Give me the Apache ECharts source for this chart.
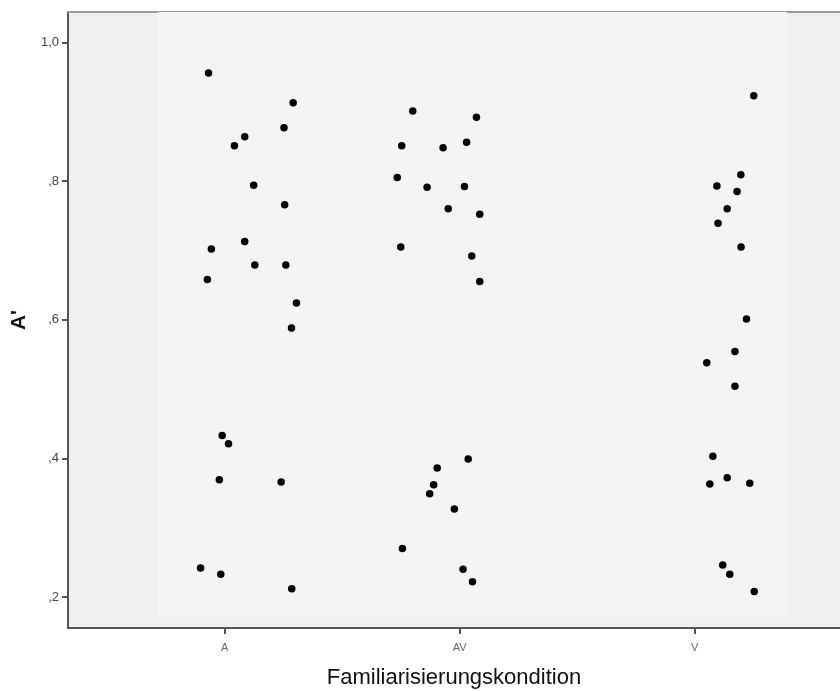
<!DOCTYPE html>
<html>
<head>
<meta charset="utf-8">
<script src="https://cdn.jsdelivr.net/npm/echarts@6/dist/echarts.min.js"></script>
<style>html,body{margin:0;padding:0;background:#fff}#c{width:840px;height:691px}</style>
</head>
<body>
<div id="c"></div>
<script>
// Categories and tick labels
var categories = ['A', 'AV', 'V'];
var yTickValues = [0.2, 0.4, 0.6, 0.8, 1.0];
var yTickLabels = [',2', ',4', ',6', ',8', '1,0'];

// Group A: jittered x positions (category index + jitter) and A' values
var groupA_x = [-0.069, 0.291, 0.252, 0.085, 0.041, 0.123, 0.255, 0.085, -0.057, 0.128, 0.260, -0.074, 0.305, 0.284, -0.011, 0.016, -0.023, 0.240, -0.103, -0.017, 0.285];
var groupA_y = [0.956, 0.913, 0.877, 0.864, 0.851, 0.794, 0.766, 0.713, 0.702, 0.679, 0.679, 0.658, 0.624, 0.588, 0.433, 0.421, 0.369, 0.366, 0.242, 0.233, 0.212];

// Group AV
var groupAV_x = [0.800, 1.071, 0.753, 0.929, 1.029, 0.734, 0.861, 1.020, 0.951, 1.085, 0.749, 1.051, 1.085, 1.036, 0.904, 0.889, 0.872, 0.977, 0.756, 1.014, 1.054];
var groupAV_y = [0.901, 0.892, 0.851, 0.848, 0.856, 0.805, 0.791, 0.792, 0.760, 0.752, 0.705, 0.692, 0.655, 0.399, 0.386, 0.362, 0.349, 0.327, 0.270, 0.240, 0.222];

// Group V
var groupV_x = [2.251, 2.196, 2.094, 2.180, 2.138, 2.099, 2.197, 2.220, 2.171, 2.051, 2.171, 2.077, 2.138, 2.064, 2.234, 2.119, 2.149, 2.253];
var groupV_y = [0.923, 0.809, 0.793, 0.785, 0.760, 0.739, 0.705, 0.601, 0.554, 0.538, 0.504, 0.403, 0.372, 0.363, 0.364, 0.246, 0.233, 0.208];

function zip(xs, ys) { return xs.map(function (x, i) { return [x, ys[i]]; }); }
var points = zip(groupA_x, groupA_y).concat(zip(groupAV_x, groupAV_y), zip(groupV_x, groupV_y));

var chart = echarts.init(document.getElementById('c'), null, { renderer: 'canvas' });
var labelFont = '"Liberation Sans", Arial, sans-serif';
chart.setOption({
  animation: false,
  backgroundColor: '#ffffff',
  grid: { left: 68, right: 0, top: 12, bottom: 63, show: true, backgroundColor: '#eef0f0', borderWidth: 0, containLabel: false, outerBoundsMode: 'none' },
  xAxis: [{
    type: 'value', min: -0.667, max: 2.618,
    splitLine: { show: false },
    axisLine: { show: true, onZero: false, lineStyle: { color: '#555', width: 2 } },
    axisTick: { show: true, customValues: [0, 1, 2], length: 6, lineStyle: { color: '#555', width: 2 } },
    axisLabel: { show: true, customValues: [0, 1, 2], formatter: function (v) { return categories[Math.round(v)]; }, color: '#666', fontSize: 11, fontFamily: labelFont, margin: 14 },
    name: 'Familiarisierungskondition', nameLocation: 'middle', nameGap: 39,
    nameTextStyle: { fontSize: 22, color: '#111', fontFamily: labelFont }
  }, {
    type: 'value', position: 'top', min: -0.667, max: 2.618,
    splitLine: { show: false }, axisTick: { show: false }, axisLabel: { show: false },
    axisLine: { show: true, onZero: false, lineStyle: { color: '#9a9a9a', width: 2 } }
  }],
  yAxis: {
    type: 'value', min: 0.1553, max: 1.0439,
    splitLine: { show: false },
    axisLine: { show: true, onZero: false, lineStyle: { color: '#555', width: 2 } },
    axisTick: { show: true, customValues: yTickValues, length: 6, lineStyle: { color: '#555', width: 2 } },
    axisLabel: { show: true, customValues: yTickValues, formatter: function (v) {
      var i = yTickValues.findIndex(function (t) { return Math.abs(t - v) < 1e-6; });
      return i >= 0 ? yTickLabels[i] : '';
    }, color: '#444', fontSize: 13, fontFamily: labelFont, margin: 9 },
    name: "A'", nameLocation: 'middle', nameGap: 30, nameRotate: 90,
    nameTextStyle: { fontSize: 21, color: '#111', fontFamily: labelFont, fontWeight: 'bold' }
  },
  series: [{
    type: 'scatter',
    data: points,
    symbol: 'circle',
    symbolSize: 7.5,
    itemStyle: { color: '#000', opacity: 1 },
    silent: true,
    z: 5,
    markArea: {
      silent: true,
      itemStyle: { color: '#f4f4f3', opacity: 1 },
      data: [[{ coord: [-0.285, 0.172] }, { coord: [2.392, 1.0439] }]]
    }
  }]
});
</script>
</body>
</html>
